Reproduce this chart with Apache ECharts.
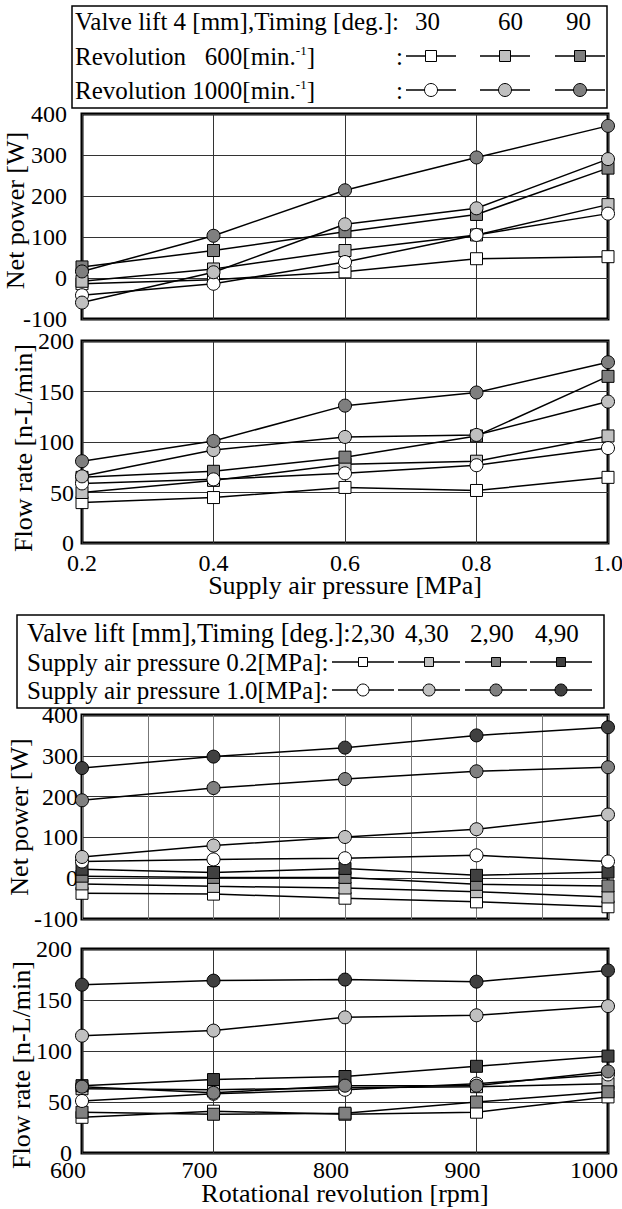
<!DOCTYPE html>
<html>
<head>
<meta charset="utf-8">
<script src="https://cdn.jsdelivr.net/npm/echarts@6/dist/echarts.min.js"></script>
<style>
  html, body { margin: 0; padding: 0; background: #fff; }
  #root { width: 622px; height: 1209px; }
</style>
</head>
<body>
<div id="root"></div>
<script>
// x values
const pressure = [0.2, 0.4, 0.6, 0.8, 1.0];
const revolution = [600, 700, 800, 900, 1000];

// net power [W] vs supply air pressure, valve lift 4 mm
const powerP_600_30 = [-14, -4, 15, 47, 52];
const powerP_600_60 = [-8, 22, 67, 105, 179];
const powerP_600_90 = [27, 67, 113, 155, 268];
const powerP_1000_30 = [-42, -14, 39, 105, 157];
const powerP_1000_60 = [-60, 14, 131, 170, 290];
const powerP_1000_90 = [16, 103, 214, 294, 371];

// flow rate [n-L/min] vs supply air pressure
const flowP_600_30 = [40, 45, 55, 52, 65];
const flowP_600_60 = [50, 62, 78, 81, 106];
const flowP_600_90 = [65, 71, 85, 106, 165];
const flowP_1000_30 = [59, 63, 69, 77, 94];
const flowP_1000_60 = [66, 92, 105, 107, 140];
const flowP_1000_90 = [81, 101, 136, 149, 179];

// net power vs rotational revolution (pressure, lift, timing)
const powerR_02_2_30 = [-37, -39, -49, -58, -70];
const powerR_02_4_30 = [-14, -20, -24, -33, -46];
const powerR_02_2_90 = [5, 2, 2, -15, -19];
const powerR_02_4_90 = [22, 14, 24, 7, 15];
const powerR_10_2_30 = [41, 46, 49, 56, 41];
const powerR_10_4_30 = [52, 80, 101, 120, 156];
const powerR_10_2_90 = [191, 221, 243, 262, 272];
const powerR_10_4_90 = [270, 298, 320, 350, 370];

// flow rate vs rotational revolution
const flowR_02_2_30 = [35, 41, 38, 40, 55];
const flowR_02_4_30 = [63, 62, 64, 65, 68];
const flowR_02_2_90 = [40, 38, 39, 50, 60];
const flowR_02_4_90 = [66, 72, 75, 85, 95];
const flowR_10_2_30 = [51, 58, 62, 68, 77];
const flowR_10_4_30 = [115, 120, 133, 135, 144];
const flowR_10_2_90 = [65, 59, 66, 66, 80];
const flowR_10_4_90 = [165, 169, 170, 168, 179];

// tick labels
const powerTicks = [-100, 0, 100, 200, 300, 400];
const flowTicks = [0, 50, 100, 150, 200];
const pressureTicks = [0.2, 0.4, 0.6, 0.8, 1.0];
const revolutionTicks = [600, 700, 800, 900, 1000];

// legend texts
const timingLabels = ['30', '60', '90'];
const revLabels = ['Revolution\u00a0\u00a0\u00a0600', 'Revolution 1000'];
const caseLabels = ['2,30', '4,30', '2,90', '4,90'];
const pressureLabels = ['Supply air pressure 0.2[MPa]:', 'Supply air pressure 1.0[MPa]:'];

const shadesA = ['#ffffff', '#c0c0c0', '#7f7f7f'];
const shadesB = ['#ffffff', '#c0c0c0', '#808080', '#404040'];

const FONT = 'Liberation Serif';

var chart = echarts.init(document.getElementById('root'), null, { renderer: 'svg' });

function mk(xs, ys, grid, sym, fill) {
  return {
    type: 'line',
    xAxisIndex: grid,
    yAxisIndex: grid,
    data: xs.map((x, i) => [x, ys[i]]),
    symbol: sym,
    symbolSize: sym === 'rect' ? 12 : 13,
    clip: false,
    lineStyle: { color: '#000', width: 1.5 },
    itemStyle: { color: fill, borderColor: '#000', borderWidth: 1 },
    emphasis: { disabled: true },
    silent: true
  };
}

function yAxis(grid, ticks, name, gap, labelPad, namePad) {
  return {
    type: 'value', gridIndex: grid,
    min: ticks[0], max: ticks[ticks.length - 1], interval: ticks[1] - ticks[0],
    axisLine: { show: false }, axisTick: { show: false },
    splitLine: { show: true, lineStyle: { color: '#333', width: 1 } },
    axisLabel: {
      show: true, color: '#000', fontFamily: FONT, fontSize: 24,
      margin: labelPad.margin, padding: labelPad.pad,
      showMinLabel: true, showMaxLabel: true
    },
    name: name, nameLocation: 'middle', nameGap: gap, nameMoveOverlap: false,
    nameTextStyle: { color: '#000', fontFamily: FONT, fontSize: 26, padding: namePad }
  };
}

function xAxis(grid, ticks, step, opts) {
  return Object.assign({
    type: 'value', gridIndex: grid,
    min: ticks[0], max: ticks[ticks.length - 1], interval: step,
    axisLine: { show: false }, axisTick: { show: false },
    splitLine: { show: true, lineStyle: { color: '#333', width: 1 } },
    axisLabel: { show: false },
    nameMoveOverlap: false
  }, opts);
}

// legend graphics
const g = [];
function box(x, y, w, h) {
  g.push({ type: 'rect', shape: { x, y, width: w, height: h },
    style: { fill: '#fff', stroke: '#000', lineWidth: 1.5 } });
}
function txt(x, y, text, rich, size) {
  const style = { text, fill: '#000', fontFamily: FONT, fontSize: size || 25, align: 'left', verticalAlign: 'middle' };
  if (rich) style.rich = { sup: { fontFamily: FONT, fontSize: 13, verticalAlign: 'top', fill: '#000' } };
  g.push({ type: 'text', x, y, style });
}
function item(cx, cy, half, sym, fill, size) {
  g.push({ type: 'line', shape: { x1: cx - half, y1: cy, x2: cx + half, y2: cy },
    style: { stroke: '#000', lineWidth: 1.5 } });
  if (sym === 'rect') {
    g.push({ type: 'rect', shape: { x: cx - size / 2, y: cy - size / 2, width: size, height: size },
      style: { fill, stroke: '#000', lineWidth: 1 } });
  } else {
    g.push({ type: 'circle', shape: { cx, cy, r: size / 2 },
      style: { fill, stroke: '#000', lineWidth: 1 } });
  }
}

// legend for the pressure plots
box(72, 6, 535, 102);
txt(75, 21, 'Valve lift 4 [mm],Timing [deg.]:');
[415, 498, 566].forEach((x, k) => txt(x, 21, timingLabels[k]));
[56, 90].forEach((y, r) => {
  txt(75, y, revLabels[r] + '[min.{sup|-1}]', true);
  txt(396, y, ':');
  [431, 505, 580].forEach((cx, k) => item(cx, y, 25, r === 0 ? 'rect' : 'circle', shadesA[k], r === 0 ? 11 : 13));
});

// legend for the revolution plots
box(17, 615, 587, 93);
txt(27, 633, 'Valve lift [mm],Timing [deg.]:', false, 26.5);
[351, 405, 470, 535].forEach((x, k) => txt(x, 633, caseLabels[k]));
[662, 690].forEach((y, r) => {
  txt(27, y, pressureLabels[r]);
  [363, 429, 496, 561].forEach((cx, k) => item(cx, y, 31, r === 0 ? 'rect' : 'circle', shadesB[k], r === 0 ? 9 : 12));
});

const gridBase = { left: 82, width: 526, show: true, borderColor: '#000', borderWidth: 3,
  backgroundColor: 'transparent', containLabel: false, outerBoundsMode: 'none' };

var option = {
  animation: false,
  backgroundColor: '#fff',
  grid: [
    Object.assign({ top: 114, height: 205 }, gridBase),
    Object.assign({ top: 341, height: 202 }, gridBase),
    Object.assign({ top: 715, height: 204 }, gridBase),
    Object.assign({ top: 949, height: 204 }, gridBase)
  ],
  xAxis: [
    xAxis(0, pressureTicks, 0.2, {}),
    xAxis(1, pressureTicks, 0.2, {
      axisLabel: { show: true, color: '#000', fontFamily: FONT, fontSize: 24, margin: 8,
        showMinLabel: true, showMaxLabel: true, formatter: v => v.toFixed(1) },
      name: 'Supply air pressure [MPa]', nameLocation: 'middle', nameGap: 29,
      nameTextStyle: { color: '#000', fontFamily: FONT, fontSize: 26 }
    }),
    xAxis(2, revolutionTicks, 50, {
      splitLine: { show: true, lineStyle: { color: '#777', width: 1 } }
    }),
    xAxis(3, revolutionTicks, 100, {
      axisLabel: { show: true, color: '#000', fontFamily: FONT, fontSize: 24, margin: 5,
        padding: [0, 28, 0, 0], showMinLabel: true, showMaxLabel: true, formatter: v => String(v) },
      name: 'Rotational revolution [rpm]', nameLocation: 'middle', nameGap: 27,
      nameTextStyle: { color: '#000', fontFamily: FONT, fontSize: 26 }
    })
  ],
  yAxis: [
    yAxis(0, powerTicks, 'Net power [W]', 54, { margin: 15, pad: [0, 0, 12, 0] }, [0, 0, 0, 12]),
    yAxis(1, flowTicks, 'Flow rate [n-L/min]', 46, { margin: 8, pad: [12, 0, 0, 0] }, [0, 12, 0, 0]),
    yAxis(2, powerTicks, 'Net power [W]', 50, { margin: 4, pad: [12, 0, 0, 0] }, [0, 0, 0, 0]),
    yAxis(3, flowTicks, 'Flow rate [n-L/min]', 48, { margin: 10, pad: [12, 0, 0, 0] }, [0, 28, 0, 0])
  ],
  series: [
    mk(pressure, powerP_600_30, 0, 'rect', shadesA[0]),
    mk(pressure, powerP_600_60, 0, 'rect', shadesA[1]),
    mk(pressure, powerP_600_90, 0, 'rect', shadesA[2]),
    mk(pressure, powerP_1000_30, 0, 'circle', shadesA[0]),
    mk(pressure, powerP_1000_60, 0, 'circle', shadesA[1]),
    mk(pressure, powerP_1000_90, 0, 'circle', shadesA[2]),

    mk(pressure, flowP_600_30, 1, 'rect', shadesA[0]),
    mk(pressure, flowP_600_60, 1, 'rect', shadesA[1]),
    mk(pressure, flowP_600_90, 1, 'rect', shadesA[2]),
    mk(pressure, flowP_1000_30, 1, 'circle', shadesA[0]),
    mk(pressure, flowP_1000_60, 1, 'circle', shadesA[1]),
    mk(pressure, flowP_1000_90, 1, 'circle', shadesA[2]),

    mk(revolution, powerR_02_2_30, 2, 'rect', shadesB[0]),
    mk(revolution, powerR_02_4_30, 2, 'rect', shadesB[1]),
    mk(revolution, powerR_02_2_90, 2, 'rect', shadesB[2]),
    mk(revolution, powerR_02_4_90, 2, 'rect', shadesB[3]),
    mk(revolution, powerR_10_2_30, 2, 'circle', shadesB[0]),
    mk(revolution, powerR_10_4_30, 2, 'circle', shadesB[1]),
    mk(revolution, powerR_10_2_90, 2, 'circle', shadesB[2]),
    mk(revolution, powerR_10_4_90, 2, 'circle', shadesB[3]),

    mk(revolution, flowR_02_2_30, 3, 'rect', shadesB[0]),
    mk(revolution, flowR_02_4_30, 3, 'rect', shadesB[1]),
    mk(revolution, flowR_02_2_90, 3, 'rect', shadesB[2]),
    mk(revolution, flowR_02_4_90, 3, 'rect', shadesB[3]),
    mk(revolution, flowR_10_2_30, 3, 'circle', shadesB[0]),
    mk(revolution, flowR_10_4_30, 3, 'circle', shadesB[1]),
    mk(revolution, flowR_10_2_90, 3, 'circle', shadesB[2]),
    mk(revolution, flowR_10_4_90, 3, 'circle', shadesB[3])
  ],
  graphic: g
};

chart.setOption(option);
</script>
</body>
</html>
